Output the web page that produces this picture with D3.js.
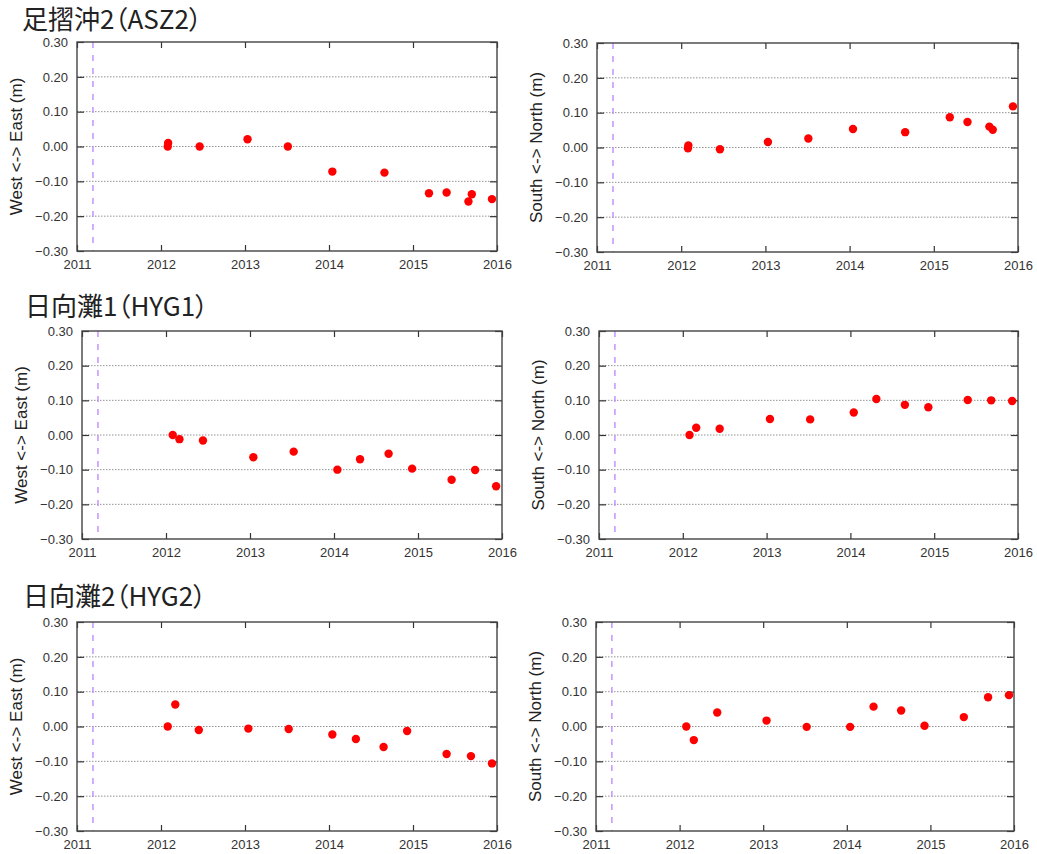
<!DOCTYPE html>
<html>
<head>
<meta charset="utf-8">
<script src="https://cdn.jsdelivr.net/npm/d3@7"></script>
<style>
  body { margin: 0; background: #fff; }
  .tick text { font-family: "Liberation Sans", Arial, sans-serif; font-size: 13px; fill: #333; }
  .title { font-family: "Noto Sans CJK JP", sans-serif; font-size: 26px; fill: #222; font-feature-settings: "palt"; }
  .ylab { font-family: "Liberation Sans", Arial, sans-serif; font-size: 17px; fill: #222; }
</style>
</head>
<body>
<div id="chart"></div>
<script>
// -DATA-
// axis ticks
const yearTicks = [2011, 2012, 2013, 2014, 2015, 2016];
const dispTicks = [-0.3, -0.2, -0.1, 0, 0.1, 0.2, 0.3];
// 2011 Tohoku earthquake (dashed line)
const quakeTime = 2011.19;

const stationNames = ["足摺沖2（ASZ2）", "日向灘1（HYG1）", "日向灘2（HYG2）"];
const compLabels = ["West <-> East (m)", "South <-> North (m)"];

// ASZ2 - observation times (decimal year) and displacements (m)
const asz2Time = [2012.08, 2012.085, 2012.46, 2013.03, 2013.51, 2014.04, 2014.66, 2015.19, 2015.40, 2015.66, 2015.70, 2015.94];
const asz2EW = [0.00, 0.01, 0.00, 0.021, 0.00, -0.072, -0.075, -0.134, -0.132, -0.158, -0.137, -0.151];
const asz2NS = [-0.002, 0.006, -0.005, 0.016, 0.026, 0.053, 0.044, 0.087, 0.073, 0.060, 0.051, 0.118];

// HYG1
const hyg1Time = [2012.08, 2012.16, 2012.44, 2013.04, 2013.52, 2014.04, 2014.31, 2014.65, 2014.93, 2015.40, 2015.68, 2015.93];
const hyg1EW = [0.00, -0.012, -0.016, -0.064, -0.048, -0.100, -0.070, -0.054, -0.097, -0.129, -0.101, -0.148];
const hyg1NS = [0.00, 0.021, 0.018, 0.046, 0.045, 0.065, 0.104, 0.087, 0.080, 0.101, 0.100, 0.098];

// HYG2
const hyg2Time = [2012.08, 2012.17, 2012.45, 2013.04, 2013.52, 2014.04, 2014.32, 2014.65, 2014.93, 2015.40, 2015.69, 2015.94];
const hyg2EW = [0.00, 0.063, -0.010, -0.006, -0.007, -0.023, -0.036, -0.059, -0.013, -0.079, -0.085, -0.106];
const hyg2NS = [0.00, -0.039, 0.040, 0.017, -0.001, -0.001, 0.057, 0.046, 0.002, 0.027, 0.084, 0.090];

// -LAYOUT-
const svg_w = 1037;
const svg_h = 854;
const dotColor = "#ff0000";
const quakeColor = "#c08cff";

// one entry per panel: frame box, which data
const panels = [
  { x0: 77, x1: 497, y0: 42, y1: 251, t: asz2Time, v: asz2EW, lab: 0 },
  { x0: 597, x1: 1018, y0: 43, y1: 252, t: asz2Time, v: asz2NS, lab: 1 },
  { x0: 82, x1: 502, y0: 331, y1: 539, t: hyg1Time, v: hyg1EW, lab: 0 },
  { x0: 599, x1: 1018, y0: 331, y1: 539, t: hyg1Time, v: hyg1NS, lab: 1 },
  { x0: 77, x1: 497, y0: 622, y1: 831, t: hyg2Time, v: hyg2EW, lab: 0 },
  { x0: 596, x1: 1014, y0: 622, y1: 831, t: hyg2Time, v: hyg2NS, lab: 1 }
];
const titlePos = [[22, 29], [25, 316], [23, 606]];

const svg = d3.select("#chart")
  .append("svg")
  .attr("width", svg_w)
  .attr("height", svg_h);

// station titles
svg.selectAll("text.title")
  .data(stationNames)
  .enter()
  .append("text")
  .attr("class", "title")
  .attr("x", (d, i) => titlePos[i][0])
  .attr("y", (d, i) => titlePos[i][1])
  .text(d => d);

panels.forEach(p => {
  const xScale = d3.scaleLinear().domain([2011, 2016]).range([p.x0, p.x1]);
  const yScale = d3.scaleLinear().domain([-0.3, 0.3]).range([p.y1, p.y0]);
  const g = svg.append("g");

  // dotted grid
  g.selectAll("line.grid")
    .data(dispTicks.slice(1, -1))
    .enter()
    .append("line")
    .attr("x1", p.x0).attr("x2", p.x1)
    .attr("y1", d => yScale(d)).attr("y2", d => yScale(d))
    .attr("stroke", "#777")
    .attr("stroke-width", 0.8)
    .attr("stroke-dasharray", "1.5,1.5");

  // quake line
  g.append("line")
    .attr("x1", xScale(quakeTime)).attr("x2", xScale(quakeTime))
    .attr("y1", p.y0).attr("y2", p.y1)
    .attr("stroke", quakeColor)
    .attr("stroke-width", 1.4)
    .attr("stroke-dasharray", "6,7");

  // axes (ticks inward, gnuplot style)
  const xAxis = d3.axisBottom(xScale).tickValues(yearTicks).tickFormat(d3.format("d"))
    .tickSizeInner(-6).tickSizeOuter(0).tickPadding(9);
  const xTop = d3.axisTop(xScale).tickValues(yearTicks).tickFormat("")
    .tickSizeInner(-6).tickSizeOuter(0);
  const yAxis = d3.axisLeft(yScale).tickValues(dispTicks).tickFormat(d3.format(".2f"))
    .tickSizeInner(-7).tickSizeOuter(0).tickPadding(9);
  const yRight = d3.axisRight(yScale).tickValues(dispTicks).tickFormat("")
    .tickSizeInner(-7).tickSizeOuter(0);

  [
    [xAxis, `translate(0,${p.y1})`],
    [xTop, `translate(0,${p.y0})`],
    [yAxis, `translate(${p.x0},0)`],
    [yRight, `translate(${p.x1},0)`]
  ].forEach(([ax, tr]) => {
    const a = g.append("g").attr("transform", tr).call(ax);
    a.select(".domain").remove();
    a.selectAll(".tick line").attr("stroke", "#333").attr("stroke-width", 1.2);
  });

  // frame
  g.append("rect")
    .attr("x", p.x0).attr("y", p.y0)
    .attr("width", p.x1 - p.x0).attr("height", p.y1 - p.y0)
    .attr("fill", "none")
    .attr("stroke", "#444")
    .attr("stroke-width", 1.4);

  // points
  g.selectAll("circle")
    .data(p.t.map((t, i) => [t, p.v[i]]))
    .enter()
    .append("circle")
    .attr("cx", d => xScale(d[0]))
    .attr("cy", d => yScale(d[1]))
    .attr("r", 4.2)
    .attr("fill", dotColor);

  // y label
  const cy = (p.y0 + p.y1) / 2;
  g.append("text")
    .attr("class", "ylab")
    .attr("transform", `translate(${p.x0 - 60.5},${cy}) rotate(-90)`)
    .attr("text-anchor", "middle")
    .attr("dy", "0.35em")
    .text(compLabels[p.lab]);
});
</script>
</body>
</html>
